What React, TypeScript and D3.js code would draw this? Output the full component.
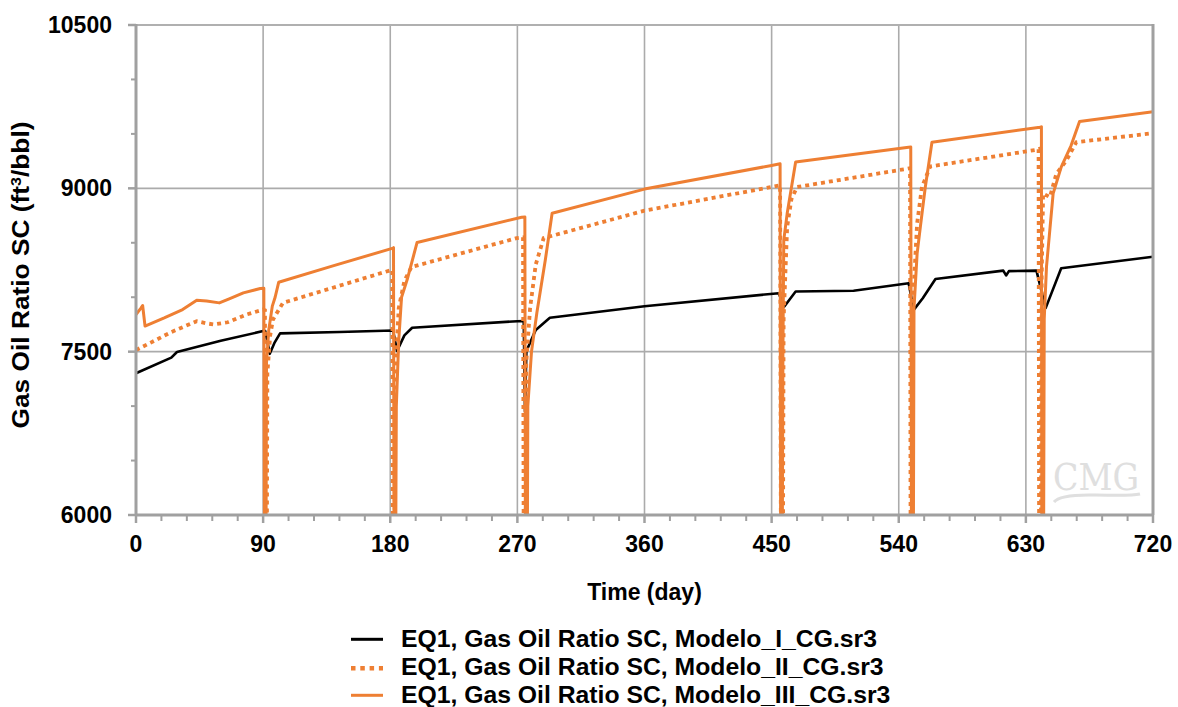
import React from "react";
import * as d3 from "d3";

const xTicks = [0, 90, 180, 270, 360, 450, 540, 630, 720];
const yTicks = [6000, 7500, 9000, 10500];

const seriesNames = [
  "EQ1, Gas Oil Ratio SC, Modelo_I_CG.sr3",
  "EQ1, Gas Oil Ratio SC, Modelo_II_CG.sr3",
  "EQ1, Gas Oil Ratio SC, Modelo_III_CG.sr3",
];

// [day, GOR]
const modeloI: [number, number][] = [
  [0, 7302], [25, 7445], [29, 7497], [60, 7600], [90, 7689], [91.5, 7690],
  [94.7, 7480], [98, 7580], [102, 7668], [144, 7680], [182, 7695],
  [184.8, 7506], [190, 7650], [195.5, 7720], [270, 7780], [274.5, 7782],
  [275.4, 6950], [276.4, 7506], [283, 7700], [293, 7811], [360, 7917],
  [455, 8037], [459, 7914], [467, 8052], [508, 8060], [547, 8128],
  [550.6, 7884], [557, 7991], [566, 8168], [614, 8244], [616, 8200],
  [618, 8240], [637.5, 8244], [644, 7900], [655, 8266], [720, 8372],
];

const modeloII: [number, number][] = [
  [0, 7515], [10, 7580], [25, 7680], [43, 7780], [50, 7760], [55, 7750],
  [65, 7770], [78, 7840], [90, 7887], [91.3, 7880], [91.6, 5500], [92.6, 5500],
  [93, 7300], [95, 7650], [97, 7796], [104, 7948], [180, 8247], [181.5, 8250],
  [181.9, 5500], [183, 5500], [183.5, 7300], [186, 7900], [190, 8150],
  [195, 8277], [269.5, 8543], [274, 8550], [274.5, 5500], [275.8, 5500],
  [276.3, 7400], [279, 7900], [283, 8300], [288.6, 8543], [360, 8795],
  [456, 9027], [456.6, 5500], [458, 5500], [458.5, 7800], [461, 8646],
  [464, 8900], [468, 9012], [546, 9180], [548, 9185], [548.4, 5500],
  [549.6, 5500], [550.2, 8000], [553, 8677], [556.4, 9012], [562.3, 9201],
  [637.5, 9354], [639, 9360], [639.4, 5500], [640.6, 5500], [641.2, 8200],
  [642.2, 8951], [647, 8920], [651.6, 9134], [658.7, 9256], [665.7, 9424],
  [720, 9506],
];

const modeloIII: [number, number][] = [
  [0, 7841], [3.5, 7900], [4.7, 7924], [6.4, 7735], [20, 7810], [33, 7887],
  [43, 7972], [50, 7965], [59, 7948], [66, 7985], [76, 8040], [88, 8080],
  [90.5, 8083], [91, 5500], [92, 5500], [92.4, 7400], [94, 7700],
  [96.5, 7918], [98.5, 8000], [101, 8137], [140, 8290], [182, 8451],
  [182.3, 8455], [182.7, 5500], [183.8, 5500], [184.3, 7000], [186, 7600],
  [188, 8000], [192, 8162], [199, 8503], [273, 8735], [275.3, 8737],
  [275.7, 5500], [277, 5500], [277.4, 7000], [280, 7500], [283.8, 7857],
  [289.8, 8344], [294.6, 8771], [360, 8993], [450, 9210], [456, 9226],
  [456.4, 5500], [457.5, 5500], [458, 7500], [458.6, 8524], [461, 8768],
  [467, 9241], [547, 9378], [548.5, 9380], [549, 5500], [550.3, 5500],
  [550.8, 7900], [553, 8400], [555.3, 8646], [558.8, 9012], [563.5, 9424],
  [640, 9561], [641, 9565], [641.3, 5500], [642.5, 5500], [643, 7800],
  [644.6, 8281], [649.3, 8951], [655, 9195], [662, 9393], [668, 9613],
  [720, 9704],
];

const ORANGE = "#EE7F33";
const FONT = "'Liberation Sans', Arial, sans-serif";

export default function App() {
  const W = 1178, H = 707;
  const x0 = 136, x1 = 1153, yTop = 25, yBot = 515;
  const x = d3.scaleLinear().domain([0, 720]).range([x0, x1]);
  const y = d3.scaleLinear().domain([6000, 10500]).range([yBot, yTop]);
  const line = d3.line<[number, number]>().x((d) => x(d[0])).y((d) => y(d[1]));

  const minorX = d3.range(0, 721, 18).filter((v) => v % 90 !== 0);
  const minorY = d3.range(6000, 10501, 500).filter((v) => v % 1500 !== 0);

  const legendRows = [
    { name: seriesNames[0], color: "#000", dash: undefined, w: 3, ly: 639.3, by: 646.7, len: 476 },
    { name: seriesNames[1], color: ORANGE, dash: "4.5 4.8", w: 4.5, ly: 668.3, by: 675, len: 482.6 },
    { name: seriesNames[2], color: ORANGE, dash: undefined, w: 3, ly: 695.3, by: 703.3, len: 489.3 },
  ];

  return (
    <svg width={W} height={H} style={{ position: "absolute", left: 0, top: 0, background: "#fff" }} fontFamily={FONT}>
      <defs>
        <clipPath id="plotClip">
          <rect x={x0} y={yTop} width={x1 - x0} height={yBot - yTop} />
        </clipPath>
      </defs>
      {/* gridlines */}
      {xTicks.slice(1, -1).map((t) => (
        <line key={"gx" + t} x1={x(t)} x2={x(t)} y1={yTop} y2={yBot} stroke="#ababab" strokeWidth={1.6} />
      ))}
      {yTicks.slice(1, -1).map((t) => (
        <line key={"gy" + t} x1={x0} x2={x1} y1={y(t)} y2={y(t)} stroke="#ababab" strokeWidth={1.6} />
      ))}
      {/* top border */}
      <line x1={x0} x2={x1} y1={yTop} y2={yTop} stroke="#b0b0b0" strokeWidth={2} />
      {/* watermark */}
      <g opacity={0.9}>
        <text x={1096} y={490} textAnchor="middle" fontFamily="'DejaVu Serif', serif" fontSize={37} fill="#dcdcdc" textLength={86} lengthAdjust="spacingAndGlyphs">CMG</text>
        <path d="M1054,502 Q1060,494 1096,495 T1140,494" fill="none" stroke="#dcdcdc" strokeWidth={3} />
      </g>
      {/* series */}
      <g clipPath="url(#plotClip)">
        <path d={line(modeloI) || ""} fill="none" stroke="#000" strokeWidth={2.6} strokeLinejoin="round" />
        <path d={line(modeloII) || ""} fill="none" stroke={ORANGE} strokeWidth={3.8} strokeDasharray="4 4" />
        <path d={line(modeloIII) || ""} fill="none" stroke={ORANGE} strokeWidth={3} strokeLinejoin="round" />
      </g>
      {/* right border */}
      <line x1={x1} x2={x1} y1={yTop - 1} y2={yBot} stroke="#a0a0a0" strokeWidth={3} />
      {/* axes */}
      <line x1={x0} x2={x0} y1={yTop - 1} y2={yBot + 1} stroke="#a0a0a0" strokeWidth={3} />
      <line x1={x0 - 1} x2={x1 + 1} y1={yBot} y2={yBot} stroke="#a0a0a0" strokeWidth={3} />
      {xTicks.map((t) => (
        <g key={"xt" + t}>
          <line x1={x(t)} x2={x(t)} y1={yBot} y2={yBot + 8} stroke="#a0a0a0" strokeWidth={2.5} />
          <text x={x(t)} y={552} textAnchor="middle" fontSize={23} fontWeight="bold" fill="#000">{t}</text>
        </g>
      ))}
      {minorX.map((t) => (
        <line key={"mx" + t} x1={x(t)} x2={x(t)} y1={yBot} y2={yBot + 6} stroke="#a0a0a0" strokeWidth={2} />
      ))}
      {yTicks.map((t) => (
        <g key={"yt" + t}>
          <line x1={x0 - 8} x2={x0} y1={y(t)} y2={y(t)} stroke="#a0a0a0" strokeWidth={2.5} />
          <text x={112} y={y(t) + 8} textAnchor="end" fontSize={23} fontWeight="bold" fill="#000">{t}</text>
        </g>
      ))}
      {minorY.map((t) => (
        <line key={"my" + t} x1={x0 - 5} x2={x0} y1={y(t)} y2={y(t)} stroke="#a0a0a0" strokeWidth={2} />
      ))}
      {/* axis titles */}
      <text x={(x0 + x1) / 2} y={600} textAnchor="middle" fontSize={23} fontWeight="bold" fill="#000">Time (day)</text>
      <text transform="translate(29,275) rotate(-90)" textAnchor="middle" fontSize={23} fontWeight="bold" fill="#000" textLength={307} lengthAdjust="spacingAndGlyphs">
        Gas Oil Ratio SC (ft<tspan baselineShift="super" fontSize={14}>3</tspan>/bbl)
      </text>
      {/* legend */}
      {legendRows.map((r) => (
        <g key={r.name}>
          <line x1={351} x2={383} y1={r.ly} y2={r.ly} stroke={r.color} strokeWidth={r.w} strokeDasharray={r.dash} />
          <text x={401} y={r.by} fontSize={23} fontWeight="bold" fill="#000" textLength={r.len} lengthAdjust="spacingAndGlyphs">{r.name}</text>
        </g>
      ))}
    </svg>
  );
}
